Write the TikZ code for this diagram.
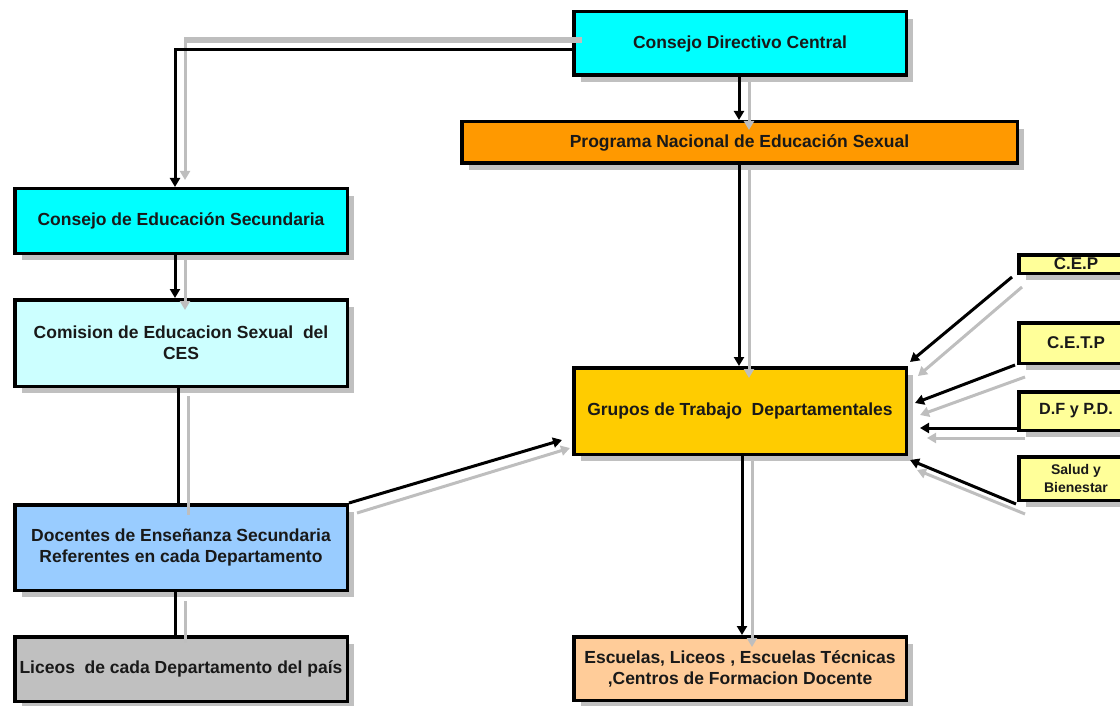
\documentclass[tikz,border=0pt]{standalone}
\usepackage{fontspec}
\setmainfont{Liberation Sans}
\usetikzlibrary{shadows,arrows.meta}
\definecolor{shgray}{RGB}{192,192,192}
\definecolor{lngray}{RGB}{190,190,190}
\definecolor{txt}{RGB}{25,25,25}
\definecolor{cyanbox}{RGB}{0,255,255}
\definecolor{orangebox}{RGB}{255,153,0}
\definecolor{lcyanbox}{RGB}{204,255,255}
\definecolor{bluebox}{RGB}{153,204,255}
\definecolor{graybox}{RGB}{192,192,192}
\definecolor{goldbox}{RGB}{255,204,0}
\definecolor{peachbox}{RGB}{255,204,153}
\definecolor{yellowbox}{RGB}{255,255,153}
\tikzset{
  box/.style={draw=black, line width=3.5pt, inner sep=0pt, align=center,
    text=txt, font=\bfseries\fontsize{17.5}{21}\selectfont,
    drop shadow={shadow xshift=7pt, shadow yshift=-7pt, fill=shgray, opacity=1}},
  smallbox/.style={box, fill=yellowbox, minimum width=114.5pt, font=\bfseries\fontsize{17}{19}\selectfont},
  blk/.style={draw=black, line width=3pt},
  gry/.style={draw=lngray, line width=3pt},
  blkarr/.style={blk, -{Triangle[length=9pt,width=10pt]}},
  gryarr/.style={gry, -{Triangle[length=9pt,width=10pt]}},
}
\begin{document}
\begin{tikzpicture}[x=1pt,y=-1pt]
\useasboundingbox (0,0) rectangle (1120,706);
% boxes
\node[box, fill=cyanbox, minimum width=332.5pt, minimum height=63.5pt] (cdc) at (740,43.5) {Consejo Directivo Central};
\node[box, fill=orangebox, minimum width=555.5pt, minimum height=41.5pt] (pnes) at (739.5,142.5) {Programa Nacional de Educación Sexual};
\node[box, fill=cyanbox, minimum width=332.5pt, minimum height=64.5pt] (ces) at (181,221) {Consejo de Educación Secundaria};
\node[box, fill=lcyanbox, minimum width=332.5pt, minimum height=86.5pt] (com) at (181,343) {Comision de Educacion Sexual\ \ del\\CES};
\node[box, fill=bluebox, minimum width=332.5pt, minimum height=85.5pt] (doc) at (181,547.5) {Docentes de Enseñanza Secundaria\\Referentes en cada Departamento};
\node[box, fill=graybox, minimum width=332.5pt, minimum height=64.5pt] (lic) at (181,669) {Liceos\ \ de cada Departamento del país};
\node[box, fill=goldbox, minimum width=332.5pt, minimum height=86.5pt] (grp) at (740,411) {Grupos de Trabajo\ \ Departamentales};
\node[box, fill=peachbox, minimum width=332.5pt, minimum height=63.5pt] (esc) at (740,668.5) {Escuelas, Liceos , Escuelas Técnicas\\,Centros de Formacion Docente};
\node[smallbox, minimum height=18.5pt] (cep) at (1076,264) {C.E.P};
\node[smallbox, minimum height=40.5pt] (cetp) at (1076,343) {C.E.T.P};
\node[smallbox, minimum height=38.5pt, font=\bfseries\fontsize{16.2}{18}\selectfont] (dfpd) at (1076,411) {D.F y P.D.};
\node[smallbox, minimum height=43.5pt, font=\bfseries\fontsize{14}{18}\selectfont] (sal) at (1076,478.5) {Salud y\\Bienestar};
% gray shadow connectors
\coordinate (g1) at ([xshift=10pt,yshift=3.5pt]cdc.west);
\coordinate (g2) at ([xshift=4pt,yshift=7pt]ces.north);
\draw[gryarr] (g1) -| (g2);
\draw[gry, line width=6pt] (g1) -- ([xshift=-1.5pt]g1 -| g2);
\draw[gryarr] ([xshift=9pt,yshift=-5pt]cdc.south) -- ([xshift=9.5pt,yshift=-10pt]pnes.north);
\draw[gryarr] ([xshift=9.5pt,yshift=-5pt]pnes.south) -- ([xshift=9pt,yshift=-12pt]grp.north);
\draw[gryarr] ([xshift=4pt,yshift=-5pt]ces.south) -- ([xshift=4pt,yshift=-12pt]com.north);
\draw[gry] ([xshift=7pt,yshift=-8pt]com.south) -- ([xshift=7pt,yshift=-12pt]doc.north);
\draw[gry] ([xshift=4pt,yshift=-9pt]doc.south) -- ([xshift=4pt,yshift=-8pt]lic.north);
\draw[gryarr] ([xshift=12pt,yshift=-5pt]grp.south) -- ([xshift=12pt,yshift=-12pt]esc.north);
\draw[gryarr] ([xshift=8pt,yshift=-10pt]doc.north east) -- ([xshift=-2pt,yshift=-37pt]grp.west);
\draw[gryarr] ([xshift=5pt,yshift=-12pt]cep.south west) -- ([xshift=10pt,yshift=-10pt]grp.north east);
\draw[gryarr] ([xshift=8pt,yshift=-12pt]cetp.south west) -- ([xshift=12pt,yshift=-4pt]grp.east);
\draw[gryarr] ([xshift=8pt,yshift=-27pt]dfpd.west) -- ([xshift=19pt,yshift=-27pt]grp.east);
\draw[gryarr] ([xshift=8pt,yshift=-12pt]sal.south west) -- ([xshift=9pt,yshift=-14pt]grp.south east);
% black connectors
\draw[blkarr] ([yshift=-6.5pt]cdc.west) -| ([xshift=-6pt]ces.north);
\draw[blkarr] ([xshift=-1pt]cdc.south) -- ([xshift=-0.5pt]pnes.north);
\draw[blkarr] ([xshift=-0.5pt]pnes.south) -- ([xshift=-1pt]grp.north);
\draw[blkarr] ([xshift=-6pt]ces.south) -- ([xshift=-6pt]com.north);
\draw[blk] ([xshift=-3pt]com.south) -- ([xshift=-3pt]doc.north);
\draw[blk] ([xshift=-6pt]doc.south) -- ([xshift=-6pt]lic.north);
\draw[blkarr] ([xshift=2pt]grp.south) -- ([xshift=2pt]esc.north);
\draw[blkarr] (doc.north east) -- ([xshift=-10pt,yshift=-29pt]grp.west);
\draw[blkarr] ([xshift=-5pt,yshift=-2pt]cep.south west) -- ([xshift=2pt,yshift=4pt]grp.north east);
\draw[blkarr] ([xshift=-2pt]cetp.south west) -- ([xshift=7pt,yshift=8pt]grp.east);
\draw[blkarr] ([yshift=-17pt]dfpd.west) -- ([xshift=12pt,yshift=-17pt]grp.east);
\draw[blkarr] ([xshift=-1pt,yshift=-2pt]sal.south west) -- ([xshift=2pt,yshift=-4pt]grp.south east);
\end{tikzpicture}
\end{document}
